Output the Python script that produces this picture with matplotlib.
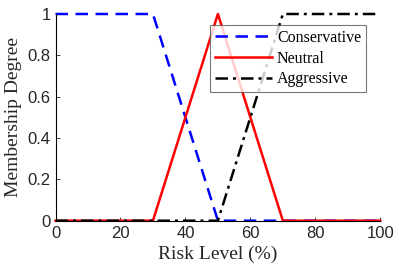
import matplotlib
matplotlib.use("Agg")
import matplotlib.pyplot as plt

# risk level breakpoints and membership degrees
risk = [0, 30, 50, 70, 100]
conservative = [1, 1, 0, 0, 0]
neutral = [0, 0, 1, 0, 0]
aggressive = [0, 0, 0, 1, 1]

x_ticks = [0, 20, 40, 60, 80, 100]
y_ticks = [0, 0.2, 0.4, 0.6, 0.8, 1]
y_labels = ["0", "0.2", "0.4", "0.6", "0.8", "1"]

serif = "Liberation Serif"

fig = plt.figure(figsize=(3.99, 2.77), dpi=100)
ax = fig.add_axes([55.5 / 399, 1 - 220.7 / 277, (380.3 - 55.5) / 399, (220.7 - 14) / 277])

ax.plot(risk, conservative, color="blue", lw=1.8, linestyle=(0, (5, 3)), label="Conservative", clip_on=False)
ax.plot(risk, neutral, color="red", lw=1.8, label="Neutral", clip_on=False)
ax.plot(risk, aggressive, color="black", lw=1.8, linestyle=(0, (5, 2, 1.2, 2)), label="Aggressive", clip_on=False)

ax.set_xlim(0, 100)
ax.set_ylim(0, 1)
ax.set_xticks(x_ticks)
ax.set_yticks(y_ticks)
ax.set_yticklabels(y_labels)
ax.tick_params(direction="in", length=3, labelsize=12, colors="#262626", width=0.6)
for lbl in ax.get_xticklabels() + ax.get_yticklabels():
    lbl.set_family("Liberation Sans")
ax.spines["top"].set_visible(False)
ax.spines["right"].set_visible(False)
ax.spines["left"].set_linewidth(0.8)
ax.spines["bottom"].set_linewidth(0.8)

ax.set_xlabel("Risk Level (%)", family=serif, fontsize=14, color="#262626", labelpad=4)
ax.set_ylabel("Membership Degree", family=serif, fontsize=14, color="#262626", labelpad=4)

leg = ax.legend(loc="upper left", bbox_to_anchor=((210 - 55.5) / (380.3 - 55.5), 1 - (25 - 14) / 206.7),
                prop={"family": serif, "size": 11.5}, frameon=True, fancybox=False,
                edgecolor="#555555", borderaxespad=0, handlelength=3.6, handletextpad=0.3,
                labelspacing=0.3, borderpad=0.3)
leg.get_frame().set_linewidth(0.8)

fig.savefig("out.png", dpi=100)
